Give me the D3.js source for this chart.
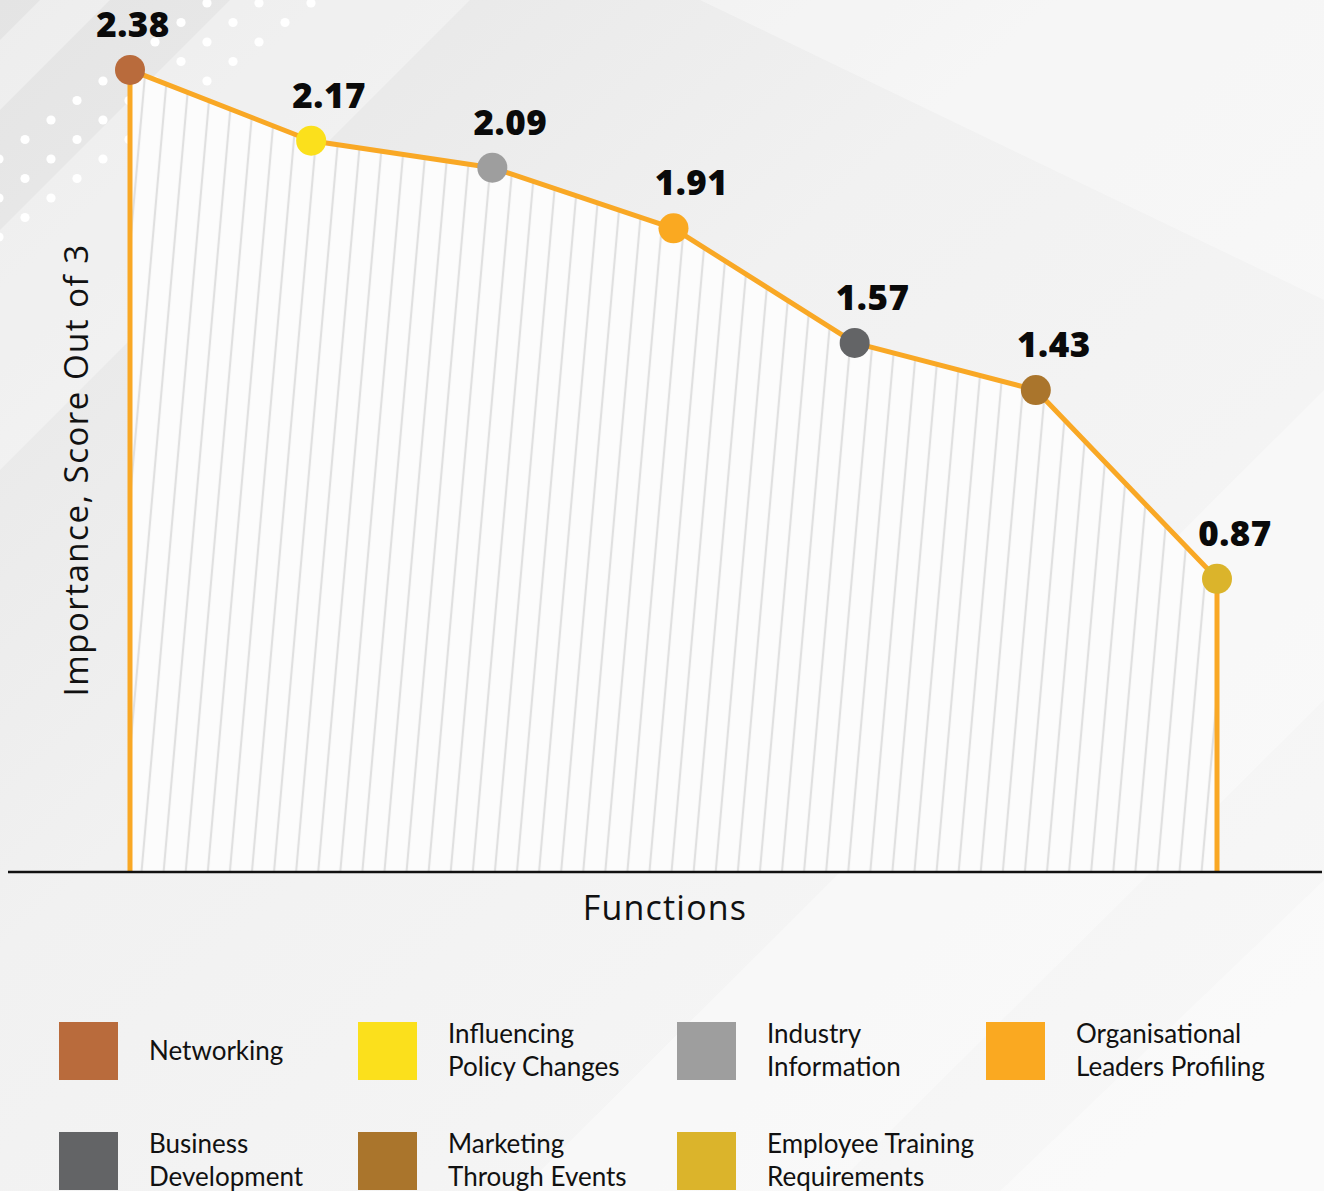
<!DOCTYPE html>
<html>
<head>
<meta charset="utf-8">
<script src="https://cdn.jsdelivr.net/npm/d3@7"></script>
<style>
  html, body { margin: 0; padding: 0; background: #f3f3f3; }
  svg { display: block; }
</style>
</head>
<body>
<div id="chart"></div>
<script>
// Functions and their importance scores (out of 3)
const categories = [
  "Networking",
  "Influencing Policy Changes",
  "Industry Information",
  "Organisational Leaders Profiling",
  "Business Development",
  "Marketing Through Events",
  "Employee Training Requirements"
];
const scores = [2.38, 2.17, 2.09, 1.91, 1.57, 1.43, 0.87];
const colors = ["#b96b3c", "#fbe01c", "#9e9e9e", "#faa921", "#636466", "#aa752c", "#dbb42b"];
// Legend text, broken into lines
const legendLines = [
  ["Networking"],
  ["Influencing", "Policy Changes"],
  ["Industry", "Information"],
  ["Organisational", "Leaders Profiling"],
  ["Business", "Development"],
  ["Marketing", "Through Events"],
  ["Employee Training", "Requirements"]
];
const yTitle = "Importance, Score Out of 3";
const xTitle = "Functions";

const W = 1324, H = 1191;
const baseY = 872;

const svg = d3.select("#chart").append("svg")
  .attr("width", W).attr("height", H);

const defs = svg.append("defs");

// Soft grey backdrop
const bg = defs.append("linearGradient").attr("id", "bg")
  .attr("x1", "0").attr("y1", "0").attr("x2", "1").attr("y2", "1");
bg.append("stop").attr("offset", "0").attr("stop-color", "#e4e4e4");
bg.append("stop").attr("offset", "0.4").attr("stop-color", "#f1f1f1");
bg.append("stop").attr("offset", "1").attr("stop-color", "#f8f8f8");

// Slanted hatch used under the line
const hatch = defs.append("pattern").attr("id", "hatch")
  .attr("patternUnits", "userSpaceOnUse")
  .attr("width", 22).attr("height", 40)
  .attr("patternTransform", "translate(8,0) rotate(5)");
hatch.append("rect").attr("width", 22).attr("height", 40).attr("fill", "#fcfcfc");
hatch.append("line").attr("x1", 11).attr("x2", 11).attr("y1", -2).attr("y2", 42)
  .attr("stroke", "#e0e0e0").attr("stroke-width", 2.2);

// Staggered white dot grid for the decorative corner
const dots = defs.append("pattern").attr("id", "dots")
  .attr("patternUnits", "userSpaceOnUse")
  .attr("width", 52).attr("height", 39)
  .attr("x", -1).attr("y", 3);
[[0, 0], [52, 0], [26, 19.5], [0, 39], [52, 39]].forEach(([cx, cy]) => {
  dots.append("circle").attr("cx", cx).attr("cy", cy).attr("r", 4.6).attr("fill", "#ffffff");
});

svg.append("rect").attr("width", W).attr("height", H).attr("fill", "url(#bg)");

// Diagonal light bands
const bands = [
  [[0, 230], [230, 0], [470, 0], [0, 470]],
  [[0, 40], [40, 0], [110, 0], [0, 110]],
  [[520, 1191], [1324, 390], [1324, 700], [830, 1191]],
  [[1000, 1191], [1324, 880], [1324, 1191]],
  [[700, 0], [1324, 0], [1324, 300]]
];
svg.append("g").selectAll("polygon").data(bands).join("polygon")
  .attr("points", d => d.map(p => p.join(",")).join(" "))
  .attr("fill", "#ffffff").attr("opacity", 0.35);

// Dotted diagonal strip, top-left
svg.append("polygon")
  .attr("points", "225,-20 354,-20 -20,260 -148,260")
  .attr("fill", "url(#dots)");

// Scales
const x = d3.scalePoint().domain(categories).range([130, 1217]);
const y = d3.scaleLinear().domain([0, 2.5]).range([baseY, 29.5]);

const pts = categories.map((c, i) => ({ c, v: scores[i], col: colors[i] }));

// Hatched area beneath the line
const area = d3.area().x(d => x(d.c)).y0(y(0)).y1(d => y(d.v));
svg.append("path").datum(pts).attr("d", area).attr("fill", "url(#hatch)");

// Vertical drops at both ends
const ends = [pts[0], pts[pts.length - 1]];
svg.append("g").selectAll("line").data(ends).join("line")
  .attr("x1", d => x(d.c)).attr("x2", d => x(d.c))
  .attr("y1", d => y(d.v)).attr("y2", y(0))
  .attr("stroke", "#f9a825").attr("stroke-width", 5);

// The line itself
const line = d3.line().x(d => x(d.c)).y(d => y(d.v));
svg.append("path").datum(pts).attr("d", line)
  .attr("fill", "none").attr("stroke", "#f9a825").attr("stroke-width", 5)
  .attr("stroke-linejoin", "round");

// Baseline axis
const xAxis = d3.axisBottom(x).tickSize(0).tickFormat("");
const axG = svg.append("g").attr("transform", `translate(0,${baseY})`).call(xAxis);
axG.select(".domain").remove();
axG.append("line").attr("x1", 8).attr("x2", 1322).attr("y1", 0).attr("y2", 0)
  .attr("stroke", "#111").attr("stroke-width", 2.5);

// Points
svg.append("g").selectAll("circle").data(pts).join("circle")
  .attr("cx", d => x(d.c)).attr("cy", d => y(d.v)).attr("r", 15)
  .attr("fill", d => d.col);

// Value labels
svg.append("g").selectAll("text").data(pts).join("text")
  .attr("x", (d, i) => x(d.c) + (i === 0 ? 3 : 18))
  .attr("y", d => y(d.v) - 33)
  .attr("text-anchor", "middle")
  .attr("font-family", "'Open Sans', sans-serif")
  .attr("font-weight", 800)
  .attr("font-size", 35)
  .attr("letter-spacing", 0.5)
  .attr("fill", "#0a0a0a")
  .text(d => d.v.toFixed(2));

// Axis titles
svg.append("text")
  .attr("transform", "translate(88,470) rotate(-90)")
  .attr("text-anchor", "middle")
  .attr("font-family", "'Open Sans', sans-serif")
  .attr("font-size", 33)
  .attr("letter-spacing", 1.5)
  .attr("fill", "#111")
  .text(yTitle);

svg.append("text")
  .attr("x", 665).attr("y", 920)
  .attr("text-anchor", "middle")
  .attr("font-family", "'Open Sans', sans-serif")
  .attr("font-size", 34)
  .attr("letter-spacing", 1.2)
  .attr("fill", "#111")
  .text(xTitle);

// Legend: four columns, two rows
const colX = [59, 358, 677, 986];
const rowY = [1022, 1132];
const leg = svg.append("g").selectAll("g").data(pts).join("g")
  .attr("transform", (d, i) => `translate(${colX[i % 4]},${rowY[Math.floor(i / 4)]})`);
leg.append("rect").attr("width", 59).attr("height", 58).attr("fill", d => d.col);
leg.append("text")
  .attr("font-family", "Lato, sans-serif")
  .attr("font-size", 26)
  .attr("fill", "#111")
  .each(function (d, i) {
    const lines = legendLines[i];
    const t = d3.select(this);
    const y0 = lines.length === 1 ? 28 : 11;
    lines.forEach((s, k) => {
      t.append("tspan").attr("x", 90).attr("y", y0 + k * 33)
        .attr("dominant-baseline", "central").text(s);
    });
  });
</script>
</body>
</html>
